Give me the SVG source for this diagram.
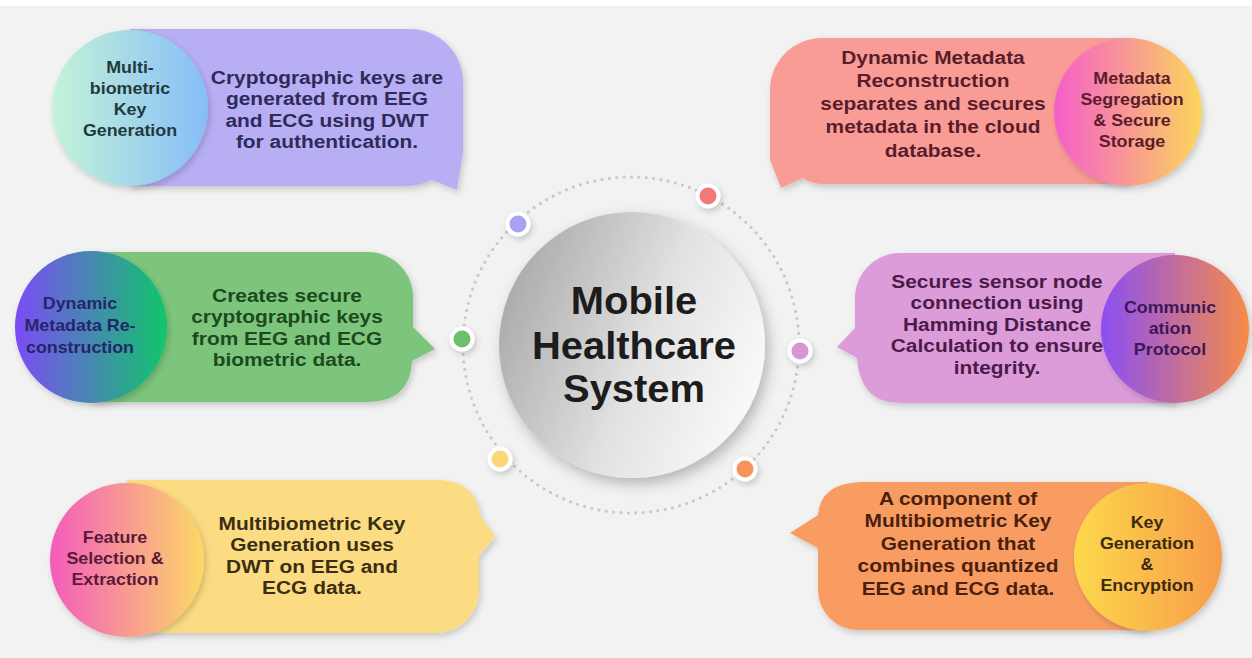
<svg xmlns="http://www.w3.org/2000/svg" width="1252" height="658" viewBox="0 0 1252 658">
<defs>
<style>
.bt{font-family:"Liberation Sans",Arial,sans-serif;font-size:19px;font-weight:700;text-anchor:middle}
.ct{font-family:"Liberation Sans",Arial,sans-serif;font-size:17px;font-weight:700;text-anchor:middle}
.title{font-family:"Liberation Sans",Arial,sans-serif;font-size:38px;font-weight:700;text-anchor:middle;fill:#1c1c1c}
.ring{fill:none;stroke:#c9c9c9;stroke-width:3.2;stroke-linecap:round;stroke-dasharray:0 7.4}
.dotw{fill:#ffffff;filter:url(#sh)}
</style>
<filter id="sh" x="-30%" y="-30%" width="160%" height="160%">
<feDropShadow dx="2" dy="3" stdDeviation="3" flood-color="#000" flood-opacity="0.18"/>
</filter>
<filter id="shb" x="-30%" y="-30%" width="160%" height="160%">
<feDropShadow dx="4" dy="6" stdDeviation="7" flood-color="#000" flood-opacity="0.25"/>
</filter>
<linearGradient id="g1" x1="0" y1="0" x2="1" y2="0"><stop offset="0" stop-color="#c4f3d8"/><stop offset="1" stop-color="#86bdf8"/></linearGradient>
<linearGradient id="g2" x1="0" y1="0" x2="1" y2="0"><stop offset="0" stop-color="#f55ecb"/><stop offset="1" stop-color="#fcd65a"/></linearGradient>
<linearGradient id="g3" x1="0" y1="0" x2="1" y2="0"><stop offset="0" stop-color="#7c4bf6"/><stop offset="1" stop-color="#10c66a"/></linearGradient>
<linearGradient id="g4" x1="0" y1="0" x2="1" y2="0"><stop offset="0" stop-color="#8a4ff4"/><stop offset="1" stop-color="#f78b48"/></linearGradient>
<linearGradient id="g5" x1="0" y1="0" x2="1" y2="0"><stop offset="0" stop-color="#f35cbc"/><stop offset="1" stop-color="#fdd866"/></linearGradient>
<linearGradient id="g6" x1="0" y1="0" x2="1" y2="0"><stop offset="0" stop-color="#fcd84c"/><stop offset="1" stop-color="#f89c4c"/></linearGradient>
<linearGradient id="gc" x1="0" y1="0.3" x2="1" y2="0.7"><stop offset="0" stop-color="#a9a9a9"/><stop offset="0.55" stop-color="#e2e2e2"/><stop offset="1" stop-color="#fbfbfb"/></linearGradient>
</defs>
<rect width="1252" height="658" fill="#f2f2f2"/>
<rect width="1252" height="6" fill="#ffffff"/>

<g id="connectors">
<circle class="ring" cx="631" cy="345" r="168"/>
<circle class="dotw" cx="518" cy="224" r="12.5"/><circle cx="518" cy="224" r="8.5" fill="#a9a2f2"/>
<circle class="dotw" cx="708" cy="196" r="12.5"/><circle cx="708" cy="196" r="8.5" fill="#ef7a78"/>
<circle class="dotw" cx="462" cy="339" r="12.5"/><circle cx="462" cy="339" r="8.5" fill="#6cbf6c"/>
<circle class="dotw" cx="800" cy="351" r="12.5"/><circle cx="800" cy="351" r="8.5" fill="#d895d6"/>
<circle class="dotw" cx="500" cy="459" r="12.5"/><circle cx="500" cy="459" r="8.5" fill="#fcd77a"/>
<circle class="dotw" cx="745" cy="469" r="12.5"/><circle cx="745" cy="469" r="8.5" fill="#f7935a"/>
</g>

<g id="center">
<circle cx="632" cy="345" r="133" fill="url(#gc)" filter="url(#shb)"/>
<g transform="translate(634,0) scale(1.05,1)">
<text class="title"><tspan x="0" y="314">Mobile</tspan><tspan x="0" y="359">Healthcare</tspan><tspan x="0" y="402">System</tspan></text>
</g>
</g>

<g id="node1">
<path d="M130,29 H410 A53,53 0 0 1 463,82 V152 L457,190 L432,180 Q420,186 405,186 H130 Z" fill="#b8aef4" filter="url(#sh)"/>
<circle cx="130" cy="108" r="78" fill="url(#g1)" filter="url(#sh)"/>
<g transform="translate(130,0) scale(1.05,1)">
<text class="ct" fill="#1f3a3c"><tspan x="0" y="73">Multi-</tspan><tspan x="0" y="94">biometric</tspan><tspan x="0" y="115">Key</tspan><tspan x="0" y="136">Generation</tspan></text>
</g>
<g transform="translate(327,0) scale(1.1,1)">
<text class="bt" fill="#2c2b5a"><tspan x="0" y="84">Cryptographic keys are</tspan><tspan x="0" y="105.5">generated from EEG</tspan><tspan x="0" y="127">and ECG using DWT</tspan><tspan x="0" y="148.5">for authentication.</tspan></text>
</g>
</g>

<g id="node2">
<path d="M1128,38 H822 A52,52 0 0 0 770,90 V160 L781,188 L803,178 Q810,184 825,184 H1128 Z" fill="#f99c95" filter="url(#sh)"/>
<circle cx="1128" cy="112" r="74" fill="url(#g2)" filter="url(#sh)"/>
<g transform="translate(1132,0) scale(1.05,1)">
<text class="ct" fill="#5a1c2c"><tspan x="0" y="84">Metadata</tspan><tspan x="0" y="105">Segregation</tspan><tspan x="0" y="126">&amp; Secure</tspan><tspan x="0" y="147">Storage</tspan></text>
</g>
<g transform="translate(933,0) scale(1.1,1)">
<text class="bt" fill="#5a1c2c"><tspan x="0" y="64">Dynamic Metadata</tspan><tspan x="0" y="87">Reconstruction</tspan><tspan x="0" y="110">separates and secures</tspan><tspan x="0" y="133.5">metadata in the cloud</tspan><tspan x="0" y="157">database.</tspan></text>
</g>
</g>

<g id="node3">
<path d="M91,252 H368 A45,45 0 0 1 413,297 V327 L435,349 L412,361 Q410,402 368,402 H91 Z" fill="#7dc57b" filter="url(#sh)"/>
<circle cx="91" cy="327" r="76" fill="url(#g3)" filter="url(#sh)"/>
<g transform="translate(80,0) scale(1.05,1)">
<text class="ct" fill="#24266a"><tspan x="0" y="309">Dynamic</tspan><tspan x="0" y="331">Metadata Re-</tspan><tspan x="0" y="353">construction</tspan></text>
</g>
<g transform="translate(287,0) scale(1.1,1)">
<text class="bt" fill="#1b4a1c"><tspan x="0" y="302">Creates secure</tspan><tspan x="0" y="323.5">cryptographic keys</tspan><tspan x="0" y="345">from EEG and ECG</tspan><tspan x="0" y="366.5">biometric data.</tspan></text>
</g>
</g>

<g id="node4">
<path d="M1175,253 H900 A45,45 0 0 0 855,298 V328 L837,347 L857,358 Q860,403 900,403 H1175 Z" fill="#dc9cd9" filter="url(#sh)"/>
<circle cx="1175" cy="329" r="74" fill="url(#g4)" filter="url(#sh)"/>
<g transform="translate(1170,0) scale(1.05,1)">
<text class="ct" fill="#3c1858"><tspan x="0" y="313">Communic</tspan><tspan x="0" y="334">ation</tspan><tspan x="0" y="355">Protocol</tspan></text>
</g>
<g transform="translate(997,0) scale(1.1,1)">
<text class="bt" fill="#4a1a4a"><tspan x="0" y="288">Secures sensor node</tspan><tspan x="0" y="309.5">connection using</tspan><tspan x="0" y="331">Hamming Distance</tspan><tspan x="0" y="352.5">Calculation to ensure</tspan><tspan x="0" y="374">integrity.</tspan></text>
</g>
</g>

<g id="node5">
<path d="M127,480 H440 Q476,482 480,515 L495,537 L479,556 V590 A43,43 0 0 1 436,633 H127 Z" fill="#fcdc82" filter="url(#sh)"/>
<circle cx="127" cy="560" r="77" fill="url(#g5)" filter="url(#sh)"/>
<g transform="translate(115,0) scale(1.05,1)">
<text class="ct" fill="#5a1a3a"><tspan x="0" y="543">Feature</tspan><tspan x="0" y="564">Selection &amp;</tspan><tspan x="0" y="585">Extraction</tspan></text>
</g>
<g transform="translate(312,0) scale(1.1,1)">
<text class="bt" fill="#3a2e12"><tspan x="0" y="530">Multibiometric Key</tspan><tspan x="0" y="551.5">Generation uses</tspan><tspan x="0" y="573">DWT on EEG and</tspan><tspan x="0" y="594.5">ECG data.</tspan></text>
</g>
</g>

<g id="node6">
<path d="M1148,482 H860 Q820,484 818,515 L790,533 L818,548 V590 A40,40 0 0 0 858,630 H1148 Z" fill="#f99c62" filter="url(#sh)"/>
<circle cx="1148" cy="557" r="74" fill="url(#g6)" filter="url(#sh)"/>
<g transform="translate(1147,0) scale(1.05,1)">
<text class="ct" fill="#3a2a10"><tspan x="0" y="528">Key</tspan><tspan x="0" y="549">Generation</tspan><tspan x="0" y="570">&amp;</tspan><tspan x="0" y="591">Encryption</tspan></text>
</g>
<g transform="translate(958,0) scale(1.1,1)">
<text class="bt" fill="#4a2010"><tspan x="0" y="505">A component of</tspan><tspan x="0" y="527.5">Multibiometric Key</tspan><tspan x="0" y="550">Generation that</tspan><tspan x="0" y="572.5">combines quantized</tspan><tspan x="0" y="595">EEG and ECG data.</tspan></text>
</g>
</g>
</svg>
